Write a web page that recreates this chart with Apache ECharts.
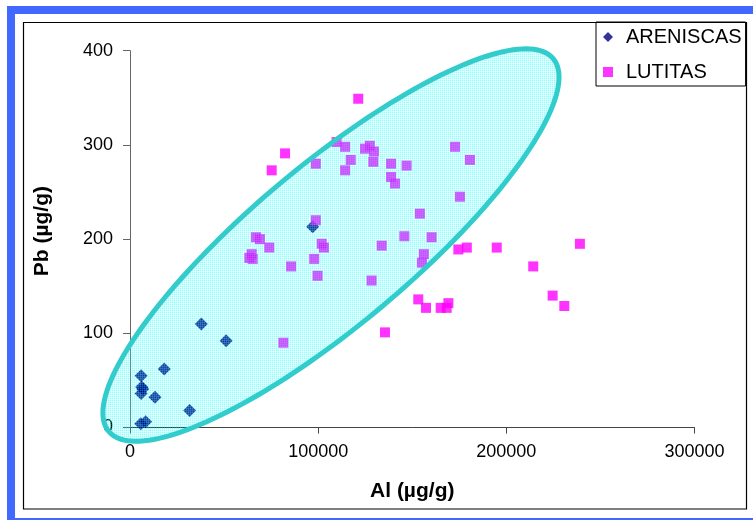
<!DOCTYPE html>
<html>
<head>
<meta charset="utf-8">
<script src="https://cdn.jsdelivr.net/npm/echarts@6/dist/echarts.min.js"></script>
<style>
  html, body { margin: 0; padding: 0; background: #ffffff; }
  #chart { width: 753px; height: 520px; }
</style>
</head>
<body>
<div id="chart"></div>
<script>
// ---- data (Al µg/g, Pb µg/g) ----
const seriesNames = ['ARENISCAS', 'LUTITAS'];
const areniscas = [
  [5900, 55], [6200, 43], [6800, 41], [5900, 36], [13300, 32], [18200, 62],
  [31700, 18], [37900, 110], [51100, 92], [5700, 4], [8300, 6], [97100, 213]
];
const lutitas = [
  [121300, 349], [82400, 291], [75300, 273], [109800, 303], [114300, 298], [98800, 280],
  [117300, 284], [114300, 273], [124900, 296], [127500, 299], [129700, 293], [129300, 282],
  [138700, 280], [147000, 278], [138700, 266], [140800, 259], [172700, 298], [180700, 284],
  [175400, 245], [154100, 227], [98800, 220], [67000, 202], [69100, 200], [74000, 191],
  [64700, 184], [63400, 180], [65200, 179], [85600, 171], [101900, 195], [103100, 191],
  [97900, 179], [99700, 161], [133800, 193], [128400, 156], [145800, 203], [160300, 202],
  [156200, 184], [155200, 175], [174500, 189], [179000, 191], [194900, 191], [239100, 195],
  [214300, 171], [153200, 136], [157300, 127], [165100, 127], [169200, 132], [168300, 127],
  [224600, 140], [230800, 129], [135500, 101], [81500, 90]
];
// axis ticks: [min, max, interval]
const xTicks = [0, 300000, 100000];
const yTicks = [0, 400, 100];
const xTitle = 'Al (µg/g)';
const yTitle = 'Pb (µg/g)';
// ellipse annotation in data units: centre, end of major semi-axis, end of minor semi-axis
const ellipseCenter = [106800, 193.7];
const ellipseMajorTip = [224900, 391.6];
const ellipseMinorTip = [134100, 128.7];

// hatched light-cyan fill pattern
const pat = document.createElement('canvas');
pat.width = 2; pat.height = 2;
const pctx = pat.getContext('2d');
pctx.fillStyle = 'rgba(0,255,255,0.24)';
pctx.fillRect(0, 0, 2, 1);
pctx.fillRect(0, 0, 1, 2);

const FONT = "'Liberation Sans', Arial, sans-serif";
const chart = echarts.init(document.getElementById('chart'), null, { renderer: 'canvas' });

const option = {
  backgroundColor: '#ffffff',
  animation: false,
  graphic: [
    { type: 'rect', z: 100, silent: true,
      shape: { x: 11, y: 10, width: 760, height: 512 },
      style: { fill: 'none', stroke: '#4169ff', lineWidth: 8 } },
    { type: 'rect', z: 100, silent: true,
      shape: { x: 23.5, y: 22.5, width: 723, height: 486.5 },
      style: { fill: 'none', stroke: '#000000', lineWidth: 1.2 } }
  ],
  grid: { left: 130, right: 58.5, top: 50.7, bottom: 92.5, containLabel: false },
  legend: {
    orient: 'vertical',
    left: 596, top: 22,
    padding: [5, 4, 4, 7],
    itemGap: 15,
    itemWidth: 10, itemHeight: 10,
    borderColor: '#000', borderWidth: 1,
    backgroundColor: '#fff',
    textStyle: { fontFamily: FONT, fontSize: 20, color: '#000', lineHeight: 20, padding: [0, 0, 0, 8] },
    data: [
      { name: seriesNames[0], icon: 'diamond' },
      { name: seriesNames[1], icon: 'rect' }
    ]
  },
  xAxis: {
    type: 'value', min: xTicks[0], max: xTicks[1], interval: xTicks[2],
    name: xTitle, nameLocation: 'middle', nameGap: 53,
    nameTextStyle: { fontFamily: FONT, fontSize: 21, fontWeight: 'bold', color: '#000' },
    axisLine: { lineStyle: { color: '#444', width: 1 } },
    axisTick: { show: true, length: 6, lineStyle: { color: '#444' } },
    axisLabel: { fontFamily: FONT, fontSize: 18, color: '#000', margin: 16,
      formatter: function (v) { return String(v); } },
    splitLine: { show: false }
  },
  yAxis: {
    type: 'value', min: yTicks[0], max: yTicks[1], interval: yTicks[2],
    name: yTitle, nameLocation: 'middle', nameGap: 77, nameRotate: 90,
    nameTextStyle: { fontFamily: FONT, fontSize: 21, fontWeight: 'bold', color: '#000', padding: [0, 0, 0, 16] },
    axisLine: { show: true, lineStyle: { color: '#666', width: 1 } },
    axisTick: { show: true, length: 7, lineStyle: { color: '#666' } },
    axisLabel: { fontFamily: FONT, fontSize: 18, color: '#000', margin: 17,
      formatter: function (v) { return String(v); } },
    splitLine: { show: false }
  },
  series: [
    { name: seriesNames[0], type: 'scatter', symbol: 'diamond', symbolSize: 13,
      itemStyle: { color: '#000080' }, data: areniscas, z: 2 },
    { name: seriesNames[1], type: 'scatter', symbol: 'rect', symbolSize: 10,
      itemStyle: { color: '#ff00ff' }, data: lutitas, z: 3 },
    { name: 'ellipse', type: 'custom', silent: true, z: 5, clip: false,
      data: [ellipseCenter],
      encode: { x: 0, y: 1 },
      renderItem: function (params, api) {
        const c = api.coord(ellipseCenter);
        const m = api.coord(ellipseMajorTip);
        const n = api.coord(ellipseMinorTip);
        const u = [m[0] - c[0], m[1] - c[1]];
        const v = [n[0] - c[0], n[1] - c[1]];
        const pts = [];
        const N = 180;
        for (let i = 0; i < N; i++) {
          const t = i / N * Math.PI * 2;
          pts.push([c[0] + Math.cos(t) * u[0] + Math.sin(t) * v[0],
                    c[1] + Math.cos(t) * u[1] + Math.sin(t) * v[1]]);
        }
        return {
          type: 'polygon',
          shape: { points: pts },
          style: { fill: { image: pat, repeat: 'repeat' }, stroke: '#33cccc', lineWidth: 5 }
        };
      }
    }
  ]
};
chart.setOption(option);
</script>
</body>
</html>
